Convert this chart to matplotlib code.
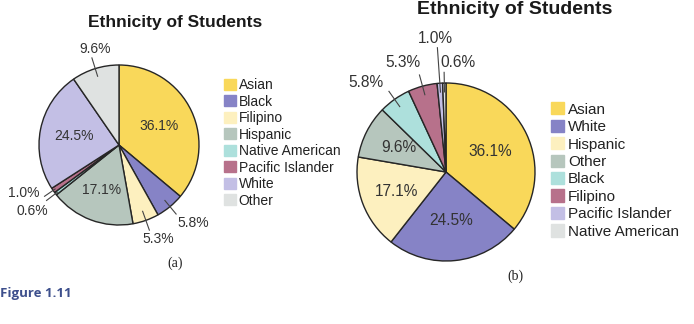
import numpy as np
import matplotlib
matplotlib.use("Agg")
import matplotlib.pyplot as plt
from matplotlib.patches import Patch

# data
palette = ["#f9d85a", "#8683c6", "#fdf0bf", "#b6c6bd",
           "#ade0dc", "#b7718b", "#c3bfe5", "#dfe2e1"]

labels_a = ["Asian", "Black", "Filipino", "Hispanic",
            "Native American", "Pacific Islander", "White", "Other"]
values_a = [36.1, 5.8, 5.3, 17.1, 0.6, 1.0, 24.5, 9.6]

labels_b = ["Asian", "White", "Hispanic", "Other",
            "Black", "Filipino", "Pacific Islander", "Native American"]
values_b = [36.1, 24.5, 17.1, 9.6, 5.8, 5.3, 1.0, 0.6]

title = "Ethnicity of Students"

W, H = 694, 324
plt.rcParams['font.family'] = ['Liberation Sans', 'DejaVu Sans']

fig = plt.figure(figsize=(W / 100, H / 100), dpi=100)
ax = fig.add_axes([0, 0, 1, 1])


def fy(y):
    # pixel row (from top) -> data y
    return H - y


def draw_pie(cx, cy, r, labels, values, fs, inside, outside):
    wedges, _ = ax.pie(values, colors=palette, startangle=90, counterclock=False,
                       center=(cx, fy(cy)), radius=r, frame=True,
                       wedgeprops=dict(edgecolor="#262626", linewidth=1.0))
    total = float(sum(values))
    cum = np.cumsum([0] + list(values))
    for i, v in enumerate(values):
        mid = 90 - 360 * (cum[i] + v / 2) / total
        txt = "%.1f%%" % v
        if i in inside:
            d = inside[i] * r
            a = np.deg2rad(mid)
            ax.text(cx + d * np.cos(a), fy(cy) + d * np.sin(a), txt,
                    ha="center", va="center", fontsize=fs, color="#333333")
        elif i in outside:
            r0, r1, rt, da = outside[i]
            a = np.deg2rad(mid)
            ax.plot([cx + r0 * r * np.cos(a), cx + r1 * r * np.cos(a)],
                    [fy(cy) + r0 * r * np.sin(a), fy(cy) + r1 * r * np.sin(a)],
                    color="#444444", lw=0.8)
            at = np.deg2rad(mid + da)
            ax.text(cx + rt * r * np.cos(at), fy(cy) + rt * r * np.sin(at), txt,
                    ha="center", va="center", fontsize=fs, color="#333333")
    return wedges


# (a)
draw_pie(119, 145, 80, labels_a, values_a, 10,
         inside={0: 0.55, 3: 0.6, 6: 0.57},
         outside={1: (0.9, 1.12, 1.34, 3.9), 2: (0.88, 1.13, 1.27, 2.9),
                  4: (0.97, 1.14, 1.36, -0.2), 5: (0.97, 1.13, 1.33, -7.8),
                  7: (0.9, 1.14, 1.24, -3.3)})
ax.text(175, fy(22), title, ha="center", va="center", fontsize=12.5,
        fontweight="bold", color="#1a1a1a")
leg_a = ax.legend([Patch(color=c) for c in palette], labels_a,
                  loc="center left", bbox_to_anchor=(224, fy(143)),
                  bbox_transform=ax.transData, frameon=False, fontsize=10,
                  handlelength=0.85, handleheight=0.85, handletextpad=0.2,
                  labelspacing=0.18, borderpad=0, borderaxespad=0)
for t in leg_a.get_texts():
    t.set_color("#222222")
ax.add_artist(leg_a)
ax.text(175, fy(263), "(a)", ha="center", va="center", fontsize=10,
        family="Liberation Serif", color="#222222")

# (b)
draw_pie(446, 172, 89, labels_b, values_b, 11.2,
         inside={0: 0.55, 1: 0.55, 2: 0.6, 3: 0.6},
         outside={4: (0.9, 1.11, 1.35, 6.6), 5: (0.9, 1.13, 1.32, 6.2),
                  6: (0.9, 1.4, 1.5, 0.7), 7: (0.9, 1.12, 1.24, -7.3)})
ax.text(515, fy(10), title, ha="center", va="center", fontsize=14,
        fontweight="bold", color="#1a1a1a")
leg_b = ax.legend([Patch(color=c) for c in palette], labels_b,
                  loc="center left", bbox_to_anchor=(551, fy(170.5)),
                  bbox_transform=ax.transData, frameon=False, fontsize=11,
                  handlelength=0.85, handleheight=0.85, handletextpad=0.25,
                  labelspacing=0.2, borderpad=0, borderaxespad=0)
for t in leg_b.get_texts():
    t.set_color("#222222")
ax.text(515, fy(276), "(b)", ha="center", va="center", fontsize=10,
        family="Liberation Serif", color="#222222")

ax.text(0, fy(294), "Figure 1.11", ha="left", va="center", fontsize=9.5,
        fontweight="bold", family="Open Sans", color="#3d4f8c")

ax.set_xlim(0, W)
ax.set_ylim(0, H)
ax.axis("off")

fig.savefig("out.png", dpi=100)
